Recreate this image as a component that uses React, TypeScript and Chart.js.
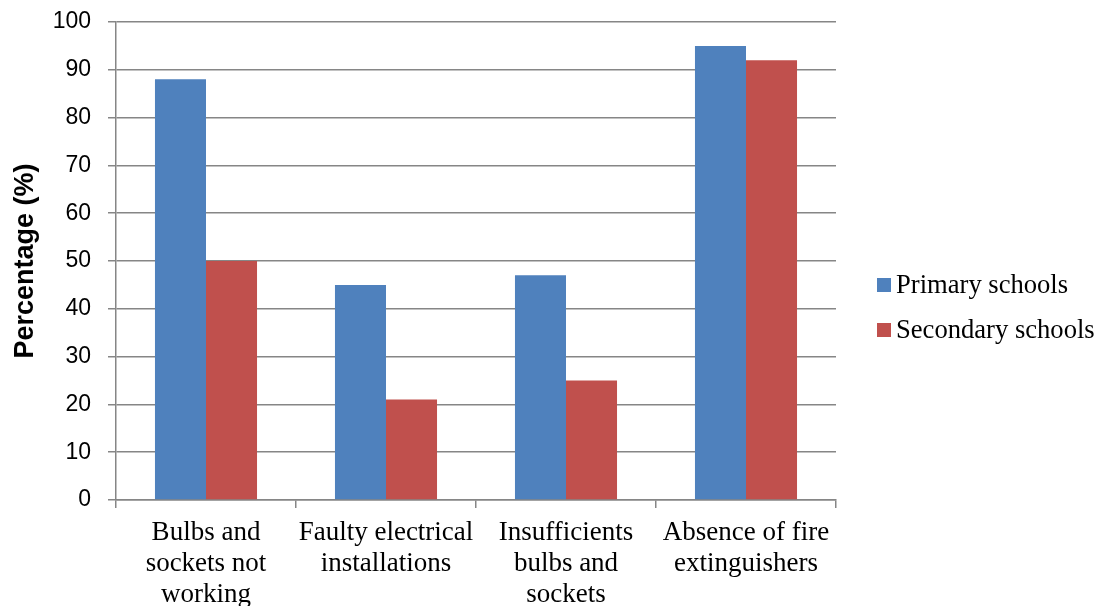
import React, { useEffect, useRef } from "react";
import { Chart, registerables } from "chart.js";

Chart.register(...registerables);

const categories: string[][] = [
  ["Bulbs and", "sockets not", "working"],
  ["Faulty electrical", "installations"],
  ["Insufficients", "bulbs and", "sockets"],
  ["Absence of fire", "extinguishers"],
];
const primarySchools = [88, 45, 47, 95];
const secondarySchools = [50, 21, 25, 92];
const seriesNames = ["Primary schools", "Secondary schools"];
const seriesColors = ["#4F81BD", "#C0504D"];
const yTitle = "Percentage (%)";

const legendPlugin = {
  id: "sideLegend",
  afterDraw(chart: any) {
    const { ctx, chartArea, height } = chart;
    ctx.save();
    ctx.font = "26.6px 'Liberation Serif', 'Times New Roman', serif";
    ctx.textBaseline = "middle";
    ctx.textAlign = "left";
    const x = chartArea.right + 41;
    const mid = height / 2 + 4.5;
    chart.data.datasets.forEach((ds: any, i: number) => {
      const cy = mid + (i - 0.5) * 45;
      ctx.fillStyle = ds.backgroundColor;
      ctx.fillRect(x, cy - 7, 14, 14);
      ctx.fillStyle = "#000";
      ctx.fillText(ds.label, x + 19, cy + 1);
    });
    ctx.restore();
  },
};

export default function App() {
  const ref = useRef<HTMLCanvasElement | null>(null);
  useEffect(() => {
    document.body.style.margin = "0";
    const ctx = ref.current!;
    const chart = new Chart(ctx, {
      type: "bar",
      data: {
        labels: categories,
        datasets: [
          {
            label: seriesNames[0],
            data: primarySchools,
            backgroundColor: seriesColors[0],
            borderWidth: 0,
          },
          {
            label: seriesNames[1],
            data: secondarySchools,
            backgroundColor: seriesColors[1],
            borderWidth: 0,
          },
        ],
      },
      plugins: [legendPlugin],
      options: {
        animation: false,
        responsive: false,
        maintainAspectRatio: false,
        layout: { padding: { top: 22, left: 9, right: 262, bottom: 0 } },
        datasets: {
          bar: { categoryPercentage: 0.567, barPercentage: 1 },
        },
        plugins: {
          tooltip: { enabled: false },
          legend: { display: false },
        },
        scales: {
          x: {
            offset: true,
            afterFit: (scale: any) => {
              scale.height = 106;
            },
            border: { color: "#868686", width: 1.5 },
            grid: {
              display: true,
              offset: true,
              drawOnChartArea: false,
              drawTicks: true,
              tickLength: 8,
              color: "#868686",
              lineWidth: 1.5,
            },
            ticks: {
              color: "#000",
              padding: 9,
              maxRotation: 0,
              autoSkip: false,
              font: { family: "'Liberation Serif', 'Times New Roman', serif", size: 27, lineHeight: "31px" },
            },
          },
          y: {
            min: 0,
            max: 100,
            afterFit: (scale: any) => {
              scale.width = 107;
              scale.paddingTop = 0;
              scale.paddingBottom = 0;
            },
            border: { color: "#868686", width: 1.5 },
            grid: {
              color: "#868686",
              lineWidth: 1.5,
              tickLength: 8,
            },
            ticks: {
              stepSize: 10,
              color: "#000",
              padding: 17,
              font: { family: "'Liberation Sans', Arial, sans-serif", size: 23 },
            },
            title: {
              display: true,
              text: yTitle,
              color: "#000",
              padding: { top: 0, bottom: 3 },
              font: { family: "'Liberation Sans', Arial, sans-serif", size: 27, weight: "bold" },
            },
          },
        },
      },
    });
    return () => chart.destroy();
  }, []);
  return (
    <div style={{ position: "absolute", left: 0, top: 0, width: 1098, height: 606 }}>
      <canvas ref={ref} width={1098} height={606} style={{ width: 1098, height: 606 }} />
    </div>
  );
}
